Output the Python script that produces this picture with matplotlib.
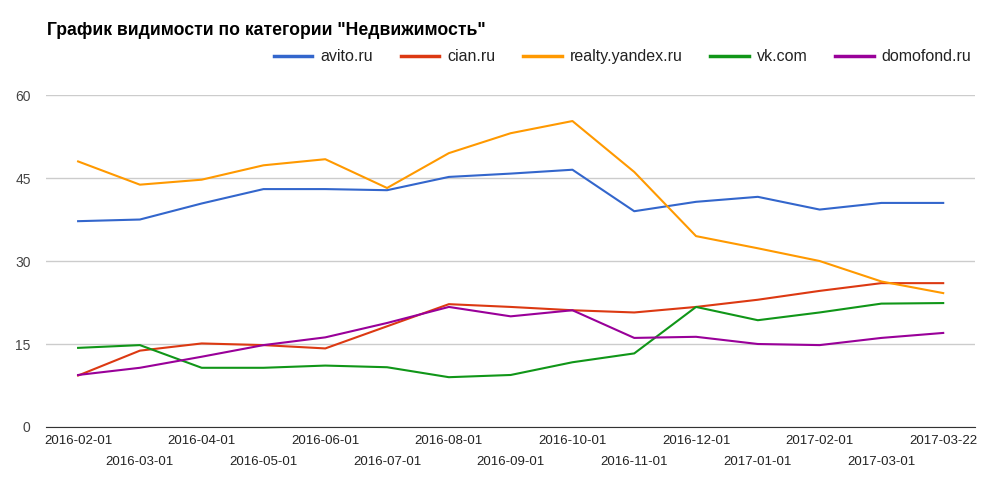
import numpy as np
import matplotlib
matplotlib.use("Agg")
import matplotlib.pyplot as plt

plt.rcParams['font.family'] = ['Liberation Sans', 'DejaVu Sans']

# Data
dates = ['2016-02-01', '2016-03-01', '2016-04-01', '2016-05-01', '2016-06-01',
         '2016-07-01', '2016-08-01', '2016-09-01', '2016-10-01', '2016-11-01',
         '2016-12-01', '2017-01-01', '2017-02-01', '2017-03-01', '2017-03-22']
avito = [37.2, 37.5, 40.4, 43.0, 43.0, 42.8, 45.2, 45.8, 46.5, 39.0, 40.7, 41.6, 39.3, 40.5, 40.5]
cian = [9.3, 13.8, 15.1, 14.8, 14.2, 18.2, 22.2, 21.7, 21.1, 20.7, 21.7, 23.0, 24.6, 26.0, 26.0]
realty = [48.0, 43.8, 44.7, 47.3, 48.4, 43.2, 49.5, 53.1, 55.3, 46.1, 34.5, 32.3, 30.0, 26.3, 24.2]
vk = [14.3, 14.8, 10.7, 10.7, 11.1, 10.8, 9.0, 9.4, 11.7, 13.3, 21.7, 19.3, 20.7, 22.3, 22.4]
domofond = [9.4, 10.7, 12.7, 14.8, 16.2, 18.8, 21.7, 20.0, 21.1, 16.1, 16.3, 15.0, 14.8, 16.1, 17.0]

series = [('avito.ru', avito, '#3366cc'),
          ('cian.ru', cian, '#dc3912'),
          ('realty.yandex.ru', realty, '#ff9900'),
          ('vk.com', vk, '#109618'),
          ('domofond.ru', domofond, '#990099')]

x = np.arange(len(dates))

fig = plt.figure(figsize=(10.08, 4.95), dpi=100)
ax = fig.add_axes([0.0456, 0.1374, 0.922, 0.6706])

for name, vals, col in series:
    ax.plot(x, vals, color=col, linewidth=1.5, label=name, solid_joinstyle='round')

ax.set_xlim(-0.52, len(dates) - 1 + 0.52)
ax.set_ylim(0, 60)
ax.set_yticks([0, 15, 30, 45, 60])
ax.grid(axis='y', color='#cccccc', linewidth=1)
ax.set_axisbelow(True)
for s in ['top', 'right', 'left']:
    ax.spines[s].set_visible(False)
ax.spines['bottom'].set_color('#333333')
ax.tick_params(axis='y', length=0, pad=11, labelsize=10, labelcolor='#444444')

# alternating two-row date labels
ax.set_xticks(x[::2], dates[::2])
ax.set_xticks(x[1::2], dates[1::2], minor=True)
ax.tick_params(axis='x', which='major', length=0, pad=6, labelsize=9.5, labelcolor='#222222')
ax.tick_params(axis='x', which='minor', length=0, pad=21, labelsize=9.5, labelcolor='#222222')

fig.text(0.0466, 0.938, 'График видимости по категории "Недвижимость"',
         fontsize=12.7, fontweight='bold', color='#000000', va='center', ha='left')

leg = fig.legend(loc='center right', bbox_to_anchor=(0.978, 0.885), ncol=5,
                 frameon=False, fontsize=11.5, handlelength=2.4, handletextpad=0.5,
                 columnspacing=1.75)
for line in leg.get_lines():
    line.set_linewidth(2.5)
for t in leg.get_texts():
    t.set_color('#222222')

fig.savefig('out.png', dpi=100)
